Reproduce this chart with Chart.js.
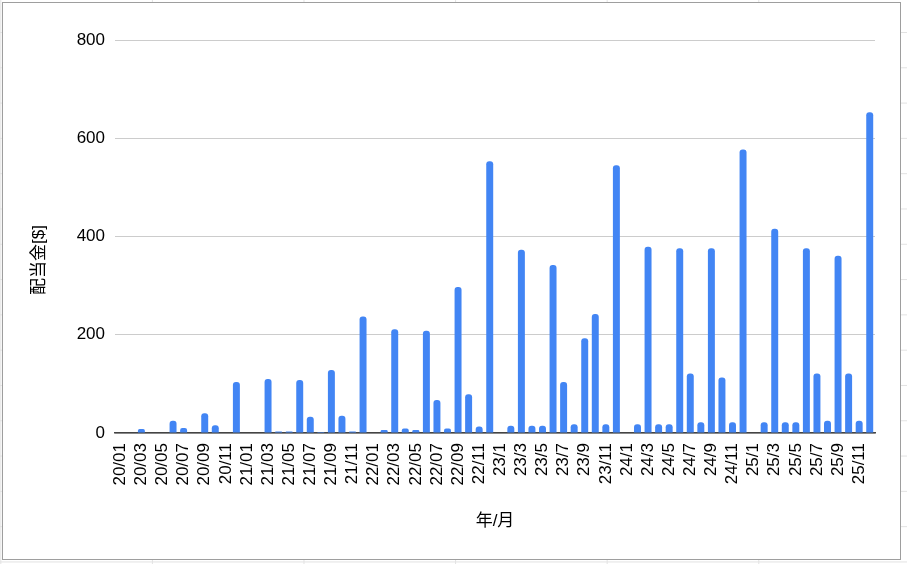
<!DOCTYPE html>
<html lang="ja">
<head>
<meta charset="utf-8">
<title>配当金</title>
<script src="https://cdn.jsdelivr.net/npm/chart.js@4.4.1/dist/chart.umd.min.js"></script>
<style>
  html, body { margin: 0; padding: 0; }
  body {
    width: 907px;
    height: 564px;
    overflow: hidden;
    position: relative;
    background-color: #fff;
    /* lignes de la feuille de calcul derrière le graphique */
    background-image:
      linear-gradient(#e2e2e2 1px, transparent 1px),
      linear-gradient(90deg, #e2e2e2 1px, transparent 1px);
    background-size: 151.6px 35.3px;
    background-position: 0 32px, 0.3px 0;
  }
  #frame {
    position: absolute;
    left: 2px; top: 2px;
    width: 899px; height: 558px;
    box-sizing: border-box;
    border: 1px solid #9e9e9e;
    background: #fff;
  }
  #wrap { position: absolute; left: 0; top: 0; width: 907px; height: 564px; }
</style>
</head>
<body>
<div id="frame"></div>
<div id="wrap"><canvas id="dividendChart"></canvas></div>
<script>
// mois (format du tableur : 20/01 ... 22/12 puis 23/1 ... 25/12)
const months = [
  "20/01", "20/02", "20/03", "20/04", "20/05", "20/06", "20/07", "20/08", "20/09", "20/10", "20/11", "20/12",
  "21/01", "21/02", "21/03", "21/04", "21/05", "21/06", "21/07", "21/08", "21/09", "21/10", "21/11", "21/12",
  "22/01", "22/02", "22/03", "22/04", "22/05", "22/06", "22/07", "22/08", "22/09", "22/10", "22/11", "22/12",
  "23/1", "23/2", "23/3", "23/4", "23/5", "23/6", "23/7", "23/8", "23/9", "23/10", "23/11", "23/12",
  "24/1", "24/2", "24/3", "24/4", "24/5", "24/6", "24/7", "24/8", "24/9", "24/10", "24/11", "24/12",
  "25/1", "25/2", "25/3", "25/4", "25/5", "25/6", "25/7", "25/8", "25/9", "25/10", "25/11", "25/12"
];

// dividendes mensuels en $
const div2020 = [0, 0, 8, 0, 0, 25, 10, 0, 40, 16, 0, 104];
const div2021 = [0, 0, 110, 3, 3, 108, 33, 2, 128, 35, 3, 237];
const div2022 = [0, 6, 211, 9, 6, 208, 67, 9, 297, 79, 13, 553];
const div2023 = [0, 15, 373, 15, 15, 342, 104, 18, 193, 242, 18, 545];
const div2024 = [0, 18, 379, 18, 18, 376, 121, 22, 376, 113, 22, 577];
const div2025 = [0, 22, 416, 22, 22, 376, 121, 25, 361, 121, 25, 653];

const yTicks = [0, 200, 400, 600, 800];

const dividends = [].concat(div2020, div2021, div2022, div2023, div2024, div2025);

const FONT = '"Liberation Sans", Arial, "Noto Sans CJK JP", sans-serif';
const TEXT = "#000";

// titre de l'axe Y : centré comme dans le tableur (pas sur la zone du graphique)
const yTitlePlugin = {
  id: "yTitle",
  afterDraw(chart) {
    const ctx = chart.ctx;
    ctx.save();
    ctx.translate(39, 260);
    ctx.rotate(-Math.PI / 2);
    ctx.font = "17px " + FONT;
    ctx.fillStyle = TEXT;
    ctx.textAlign = "center";
    ctx.textBaseline = "middle";
    ctx.fillText("配当金[$]", 0, 0);
    ctx.restore();
  }
};

document.addEventListener("DOMContentLoaded", () => {
  const ctx = document.getElementById("dividendChart").getContext("2d");
  new Chart(ctx, {
    type: "bar",
    data: {
      labels: months,
      datasets: [{
        label: "配当金[$]",
        data: dividends,
        backgroundColor: "#4285f4",
        borderRadius: 3,
        barPercentage: 0.66,
        categoryPercentage: 1
      }]
    },
    options: {
      responsive: true,
      maintainAspectRatio: false,
      animation: false,
      layout: { padding: { left: 20, right: 32, top: 40, bottom: 24 } },
      plugins: {
        legend: { display: false },
        tooltip: { enabled: false }
      },
      scales: {
        x: {
          grid: { display: false, drawTicks: false },
          border: { display: true, color: "#444", width: 1.5 },
          afterFit: s => { s.height = 107; },
          ticks: {
            autoSkip: false,
            minRotation: 90,
            maxRotation: 90,
            padding: 10,
            color: TEXT,
            font: { family: FONT, size: 17 },
            callback(value, index) {
              return index % 2 === 0 ? this.getLabelForValue(value) : "";
            }
          },
          title: {
            display: true,
            text: "年/月",
            color: TEXT,
            font: { family: FONT, size: 17 },
            padding: { top: 0, bottom: 8 }
          }
        },
        y: {
          min: 0,
          max: 800,
          grid: { color: "#cccccc", lineWidth: 1, drawTicks: false },
          border: { display: false },
          afterFit: s => { s.width = 95; },
          afterBuildTicks: s => { s.ticks = yTicks.map(v => ({ value: v })); },
          ticks: {
            padding: 10,
            color: TEXT,
            font: { family: FONT, size: 17 }
          }
        }
      }
    },
    plugins: [yTitlePlugin]
  });
});
</script>
</body>
</html>
